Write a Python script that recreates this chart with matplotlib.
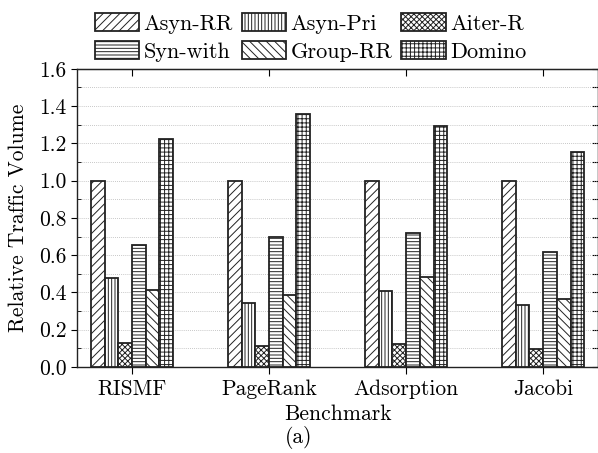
import numpy as np
from matplotlib import pyplot as plt
from matplotlib.ticker import MultipleLocator

benchmarks = ["RISMF", "PageRank", "Adsorption", "Jacobi"]
methods = ["Asyn-RR", "Asyn-Pri", "Aiter-R", "Syn-with", "Group-RR", "Domino"]

asyn_rr = [1.0, 1.0, 1.0, 1.0]
asyn_pri = [0.48, 0.345, 0.407, 0.33]
aiter_r = [0.126, 0.111, 0.124, 0.094]
syn_with = [0.655, 0.696, 0.72, 0.618]
group_rr = [0.412, 0.385, 0.484, 0.362]
domino = [1.222, 1.357, 1.294, 1.156]

hatches = ["////", "|||||", "xxxxxx", "-----", "\\\\\\\\", "++++"]

plt.rcParams["font.family"] = "cmr10"
plt.rcParams["mathtext.fontset"] = "cm"
plt.rcParams["axes.formatter.use_mathtext"] = True
plt.rcParams["hatch.linewidth"] = 0.7
plt.rcParams["hatch.color"] = "#222222"

fig = plt.figure(figsize=(5.98, 4.53), dpi=100)
ax = fig.add_axes([0.129, 0.19, 0.871, 0.658])

x = np.arange(len(benchmarks))
width = 0.1
series = [asyn_rr, asyn_pri, aiter_r, syn_with, group_rr, domino]
bars = []
for i, vals in enumerate(series):
    b = ax.bar(x + (i - 2.5) * width, vals, width, label=methods[i],
               facecolor="white", edgecolor="#222222", linewidth=1.3,
               hatch=hatches[i], zorder=3)
    bars.append(b)

fs = 15.5
ax.set_xlim(-0.4, 3.4)
ax.set_ylim(0, 1.6)
ax.set_xticks(x)
ax.set_xticklabels(benchmarks, fontsize=fs)
ax.yaxis.set_major_locator(MultipleLocator(0.2))
ax.yaxis.set_minor_locator(MultipleLocator(0.1))
ax.yaxis.set_major_formatter(plt.FormatStrFormatter("%.1f"))
ax.tick_params(axis="y", which="major", labelsize=fs, direction="out", length=4, right=False)
ax.tick_params(axis="y", which="minor", direction="in", length=3, right=False)
ax.tick_params(axis="x", which="major", direction="out", length=5, top=False, pad=4)

# top and right ticks point inward
top = ax.secondary_xaxis("top")
top.set_xticks(x)
top.tick_params(direction="in", length=5, labeltop=False)
right = ax.secondary_yaxis("right")
right.yaxis.set_major_locator(MultipleLocator(0.1))
right.tick_params(direction="in", length=4, labelright=False)

ax.grid(axis="y", which="both", linestyle=(0, (1, 1.5)), color="#b5b5b5", linewidth=0.6, zorder=0)
for s in ax.spines.values():
    s.set_linewidth(1.0)
    s.set_color("#222222")

ax.set_ylabel("Relative Traffic Volume", fontsize=fs, labelpad=8)
ax.set_xlabel("Benchmark", fontsize=fs, labelpad=4)
fig.text(0.5, 0.034, "(a)", ha="center", va="center", fontsize=fs)

# row-major legend order: reorder for matplotlib's column filling
order = [0, 3, 1, 4, 2, 5]
ax.legend([bars[k] for k in order], [methods[k] for k in order],
          loc="lower center", bbox_to_anchor=(0.448, 0.99), ncol=3, frameon=False,
          fontsize=16, handlelength=2.0, handleheight=0.85, columnspacing=0.4,
          handletextpad=0.2, labelspacing=0.35, borderaxespad=0.05)

fig.savefig("out.png", dpi=100)
